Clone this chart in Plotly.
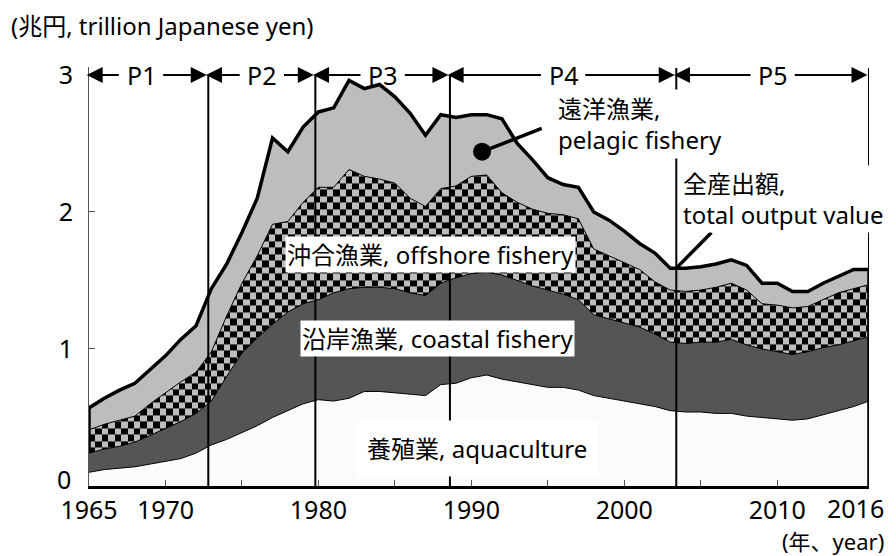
import numpy as np
import plotly.graph_objects as go

# ---------------- data (trillion yen) ----------------
years = list(range(1965, 2017))
aquaculture = [0.10, 0.12, 0.13, 0.14, 0.16, 0.18, 0.20, 0.24, 0.30, 0.34,
               0.39, 0.44, 0.50, 0.55, 0.60, 0.63, 0.62, 0.64, 0.69, 0.69,
               0.68, 0.67, 0.66, 0.74, 0.75, 0.79, 0.81, 0.78, 0.76, 0.74,
               0.72, 0.72, 0.70, 0.66, 0.64, 0.62, 0.60, 0.58, 0.55, 0.54,
               0.54, 0.53, 0.53, 0.51, 0.50, 0.49, 0.48, 0.49, 0.52, 0.55,
               0.58, 0.62]
coastal = [0.14, 0.15, 0.16, 0.18, 0.21, 0.24, 0.27, 0.29, 0.32, 0.46,
           0.58, 0.64, 0.68, 0.72, 0.73, 0.73, 0.79, 0.80, 0.76, 0.76,
           0.76, 0.74, 0.73, 0.74, 0.77, 0.76, 0.75, 0.76, 0.74, 0.72,
           0.71, 0.68, 0.66, 0.59, 0.58, 0.57, 0.56, 0.53, 0.50, 0.50,
           0.51, 0.52, 0.54, 0.52, 0.50, 0.49, 0.48, 0.49, 0.49, 0.48,
           0.48, 0.47]
offshore = [0.17, 0.18, 0.19, 0.19, 0.23, 0.26, 0.29, 0.30, 0.36, 0.44,
            0.51, 0.60, 0.73, 0.66, 0.74, 0.82, 0.77, 0.87, 0.81, 0.79,
            0.77, 0.69, 0.65, 0.69, 0.67, 0.71, 0.71, 0.60, 0.57, 0.56,
            0.56, 0.58, 0.59, 0.48, 0.46, 0.44, 0.42, 0.38, 0.38, 0.38,
            0.38, 0.40, 0.41, 0.40, 0.33, 0.34, 0.34, 0.33, 0.35, 0.38,
            0.38, 0.38]
pelagic = [0.16, 0.19, 0.22, 0.24, 0.25, 0.27, 0.31, 0.34, 0.46, 0.38,
           0.37, 0.42, 0.63, 0.51, 0.55, 0.55, 0.58, 0.65, 0.64, 0.69,
           0.63, 0.62, 0.52, 0.54, 0.50, 0.45, 0.44, 0.54, 0.43, 0.36,
           0.26, 0.22, 0.23, 0.27, 0.26, 0.23, 0.19, 0.21, 0.16, 0.17,
           0.17, 0.17, 0.17, 0.18, 0.15, 0.16, 0.12, 0.11, 0.12, 0.12,
           0.14, 0.11]

period_bounds = [1965, 1972.8, 1979.8, 1988.6, 2003.4, 2016]
period_labels = ["P1", "P2", "P3", "P4", "P5"]
xtick_vals = [1965, 1970, 1975, 1980, 1985, 1990, 1995, 2000, 2005, 2010, 2016]
xtick_text = ["1965", "1970", "", "1980", "", "1990", "", "2000", "", "2010", ""]
ytick_vals = [0, 1, 2, 3]
ytick_text = ["", "1", "2", "3"]

FONT = "Noto Sans, Noto Sans CJK JP, sans-serif"

yr = np.array(years, dtype=float)
aq = np.array(aquaculture)
co_top = aq + np.array(coastal)
off_top = co_top + np.array(offshore)
total = off_top + np.array(pelagic)

fig = go.Figure()

# ---- checkerboard texture for the offshore band (heatmap under the fills) ----
dx, dy = 0.42, 0.047
xe = list(np.arange(1965, 2016, dx))
if 2016 - xe[-1] < 0.05:
    xe[-1] = 2016
else:
    xe.append(2016)
xe = np.array(xe)
ye = np.arange(0, 3.1, dy)
z = []
for i in range(len(ye) - 1):
    row = []
    for j in range(len(xe) - 1):
        a, b = xe[j], xe[j + 1]
        pts = [a, b] + [v for v in yr if a < v < b]
        lo = min(np.interp(pts, yr, co_top))
        hi = max(np.interp(pts, yr, off_top))
        if ye[i] < hi and ye[i + 1] > lo:
            row.append((i + j) % 2)
        else:
            row.append(None)
    z.append(row)
fig.add_trace(go.Heatmap(x=xe, y=ye, z=z, zmin=0, zmax=1, showscale=False,
                         colorscale=[[0, "#bdbdbd"], [1, "#000000"]],
                         hoverinfo="skip"))

# ---- stacked areas ----
common = dict(x=years, mode="lines", stackgroup="one", hoverinfo="skip",
              line=dict(color="black", width=1))
fig.add_trace(go.Scatter(y=aquaculture, fillcolor="#fbfbfb", name="養殖業", **common))
fig.add_trace(go.Scatter(y=coastal, fillcolor="#555555", name="沿岸漁業", **common))
fig.add_trace(go.Scatter(y=offshore, fillcolor="rgba(0,0,0,0)", name="沖合漁業", **common))
fig.add_trace(go.Scatter(y=pelagic, fillcolor="#bdbdbd", name="遠洋漁業", **common))

# ---- total output line (thick), closing at both ends ----
tx = [years[0]] + years + [years[-1]]
ty = [co_top[0]] + list(total) + [0]
fig.add_trace(go.Scatter(x=tx, y=ty, mode="lines", hoverinfo="skip",
                         line=dict(color="black", width=3.5), name="全産出額"))

shapes = []
# period boundary lines
for xb in period_bounds[1:]:
    top = 3.05 if xb >= 2003 else 3.0
    shapes.append(dict(type="line", xref="x", yref="y", x0=xb, x1=xb, y0=0, y1=top,
                       line=dict(color="black", width=2), layer="above"))
# pointer for pelagic label
shapes.append(dict(type="line", xref="x", yref="y", x0=1990.7, y0=2.44, x1=1994.6, y1=2.61,
                   line=dict(color="black", width=3.5), layer="above"))
shapes.append(dict(type="circle", xref="x", yref="y", xsizemode="pixel", ysizemode="pixel",
                   xanchor=1990.7, yanchor=2.44, x0=-9, x1=9, y0=-9, y1=9,
                   fillcolor="black", line=dict(color="black", width=0), layer="above"))
# pointer for total label
shapes.append(dict(type="line", xref="x", yref="y", x0=2003.4, y0=1.59, x1=2005.7, y1=1.85,
                   line=dict(color="black", width=3.5), layer="above"))

annotations = []
# period arrows and labels
label_shift = [-0.5, 0, 0, 0, 0]
for k, lab in enumerate(period_labels):
    a, b = period_bounds[k], period_bounds[k + 1]
    c = (a + b) / 2 + label_shift[k]
    gap = 1.35
    annotations.append(dict(x=c, y=3.0, xref="x", yref="y", text=lab, showarrow=False,
                            font=dict(family=FONT, size=25, color="black")))
    annotations.append(dict(x=a - 0.15, y=3.0, ax=c - gap, ay=3.0, xref="x", yref="y",
                            axref="x", ayref="y", text="", showarrow=True,
                            arrowhead=2, arrowsize=1.6, arrowwidth=2, arrowcolor="black",
                            standoff=0, startstandoff=0))
    annotations.append(dict(x=b - 0.1, y=3.0, ax=c + gap, ay=3.0, xref="x", yref="y",
                            axref="x", ayref="y", text="", showarrow=True,
                            arrowhead=2, arrowsize=1.6, arrowwidth=2, arrowcolor="black",
                            standoff=0, startstandoff=0))

box = dict(showarrow=False, bgcolor="white", xref="x", yref="y",
           font=dict(family=FONT, size=24, color="black"))
annotations.append(dict(x=1987.3, y=1.693, text="沖合漁業, offshore fishery", borderpad=1, **box))
annotations.append(dict(x=1987.8, y=1.073, text="沿岸漁業, coastal fishery", borderpad=1, **box))
annotations.append(dict(x=1990.4, y=0.277, text="養殖業, aquaculture", borderpad=11, **box))
annotations.append(dict(x=1995.45, y=2.64, text="遠洋漁業,<br>pelagic fishery", xanchor="left",
                        align="left", borderpad=2, **box))
annotations.append(dict(x=2003.7, y=2.095, text="全産出額,<br>total output value", xanchor="left",
                        align="left", borderpad=1, **box))
annotations.append(dict(x=2016, y=0, xref="x", yref="y", text="2016", showarrow=False,
                        yanchor="top", xanchor="center", xshift=-14, yshift=-4, borderpad=0,
                        font=dict(family=FONT, size=25, color="black")))
annotations.append(dict(x=0, y=0, xref="paper", yref="y", text="0", showarrow=False,
                        xanchor="right", yanchor="middle", xshift=-16, yshift=7,
                        font=dict(family=FONT, size=25, color="black")))
annotations.append(dict(x=1.0205, y=-0.131, xref="paper", yref="paper", text="(年、year)",
                        showarrow=False, xanchor="right", yanchor="middle", borderpad=0,
                        font=dict(family=FONT, size=22, color="black")))
annotations.append(dict(x=-0.101, y=1.100, xref="paper", yref="paper",
                        text="(兆円, trillion Japanese yen)", showarrow=False,
                        xanchor="left", yanchor="middle", borderpad=0,
                        font=dict(family=FONT, size=24, color="black")))

# page body has an 8px default margin, so the plot area is placed 8px up/left
fig.update_layout(
    width=896, height=556,
    margin=dict(l=81, r=35, t=59, b=78, autoexpand=False),
    paper_bgcolor="white", plot_bgcolor="white",
    showlegend=False,
    shapes=shapes, annotations=annotations,
    font=dict(family=FONT, color="black"),
)
fig.update_xaxes(range=[1965, 2016], tickvals=xtick_vals, ticktext=xtick_text,
                 ticks="inside", ticklen=6, tickcolor="#555", tickwidth=1,
                 showline=True, linecolor="black", linewidth=3, showgrid=False,
                 zeroline=False, automargin=False, ticklabelstandoff=0,
                 tickfont=dict(family=FONT, size=25, color="black"))
fig.update_yaxes(range=[0, 3.058], tickvals=ytick_vals, ticktext=ytick_text,
                 ticks="inside", ticklen=6,
                 tickcolor="#555", tickwidth=1, showline=True, linecolor="#555",
                 linewidth=1, showgrid=False, zeroline=False, automargin=False,
                 ticklabelstandoff=10,
                 tickfont=dict(family=FONT, size=25, color="black"))

fig.write_html("out.html")
